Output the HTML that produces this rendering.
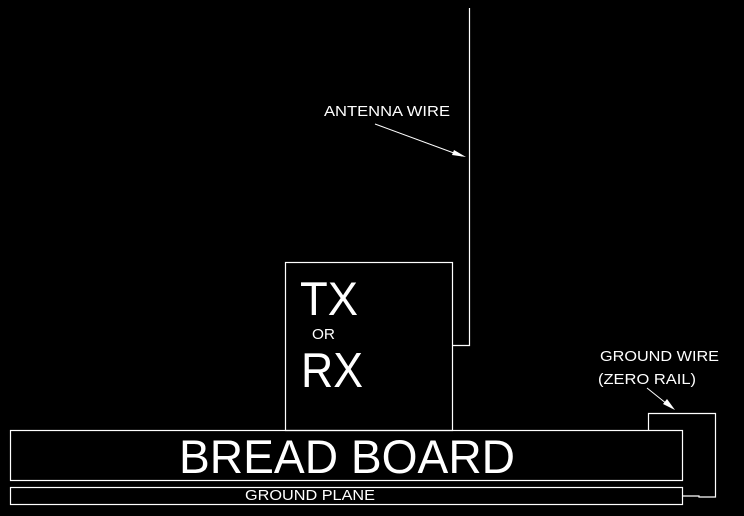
<!DOCTYPE html>
<html><head><style>html,body{margin:0;padding:0;background:#000;}svg{display:block}</style></head>
<body>
<svg width="744" height="516" viewBox="0 0 744 516" xmlns="http://www.w3.org/2000/svg" font-family="Liberation Sans, sans-serif" fill="#fff">
<g stroke="#fff" stroke-width="1.2" fill="none">
<polyline points="469.5,8 469.5,345.5 453,345.5"/>
<rect x="285.5" y="262.5" width="167" height="168"/>
<rect x="10.5" y="430.5" width="672" height="50"/>
<rect x="10.5" y="487.5" width="672" height="17"/>
<polyline points="648.5,430 648.5,413.5 715.5,413.5 715.5,497 699,497 699,496 683,496"/>
<line x1="375" y1="124" x2="462" y2="156" stroke-width="1"/>
<line x1="647" y1="388" x2="672" y2="408" stroke-width="1"/>
</g>
<polygon points="466,157 452,155 454,150"/>
<polygon points="675,410 663,404 667,399"/>
<text x="324" y="116" font-size="15" textLength="126" lengthAdjust="spacingAndGlyphs">ANTENNA WIRE</text>
<text x="300" y="315" font-size="47" textLength="58" lengthAdjust="spacingAndGlyphs">TX</text>
<text x="312" y="339" font-size="15" textLength="23" lengthAdjust="spacingAndGlyphs">OR</text>
<text x="301" y="387" font-size="49" textLength="62" lengthAdjust="spacingAndGlyphs">RX</text>
<text x="179" y="473" font-size="47" textLength="336" lengthAdjust="spacingAndGlyphs">BREAD BOARD</text>
<text x="245" y="500" font-size="15" textLength="130" lengthAdjust="spacingAndGlyphs">GROUND PLANE</text>
<text x="600" y="361" font-size="15" textLength="119" lengthAdjust="spacingAndGlyphs">GROUND WIRE</text>
<text x="598" y="384" font-size="15" textLength="98" lengthAdjust="spacingAndGlyphs">(ZERO RAIL)</text>
</svg>
</body></html>
